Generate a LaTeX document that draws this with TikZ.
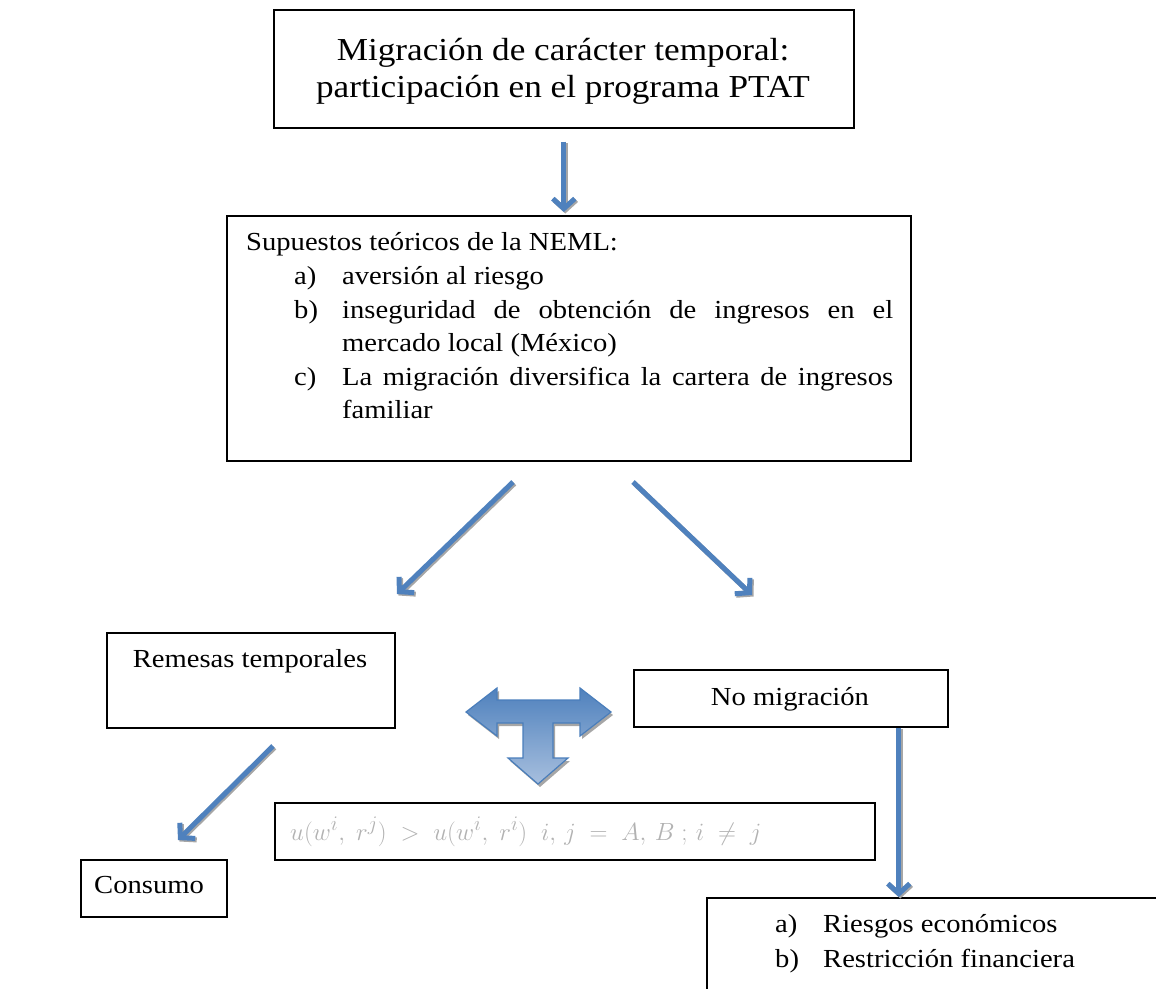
\documentclass[tikz,border=0pt]{standalone}
\usepackage{fontspec}
\setmainfont{Liberation Serif}[FakeStretch=1.1]
\usepackage{tikz}
\usetikzlibrary{arrows.meta}
\definecolor{arrblue}{HTML}{4F81BD}
\definecolor{arrgray}{HTML}{A6A6A6}
\definecolor{tdark}{HTML}{4F81BD}
\definecolor{tlight}{HTML}{A7BFDE}
\definecolor{tline}{HTML}{4A7EBB}
\tikzset{every picture/.style={x=1pt, y=-1pt},
  box/.style={draw, line width=1.6pt, anchor=north west, inner sep=0pt},
  txt/.style={font=\fontsize{26}{33}\selectfont, inner sep=0pt},
  ttl/.style={font=\fontsize{32}{37}\selectfont, inner sep=0pt},
  barrow/.style={draw=arrblue, line width=5pt, -{Straight Barb[length=10pt,width=22pt]}},
  sarrow/.style={draw=arrgray, line width=5pt, -{Straight Barb[length=10pt,width=22pt]},
    transform canvas={shift={(1.5pt,-1.5pt)}}}}
\newcommand{\blarrow}[2]{%
  \draw[sarrow] #1 -- #2;
  \draw[barrow] #1 -- #2;}

\begin{document}
\begin{tikzpicture}
    \clip (0,0) rectangle (1156,988);
    % boxes
    \node[box, minimum width=580pt, minimum height=118pt] (ptat) at (273,9) {};
    \node[ttl, anchor=base] (t1) at (563,60) {Migración de carácter temporal:};
    \node[ttl, anchor=base] (t2) at (563,97) {participación en el programa PTAT};

    \node[box, minimum width=684pt, minimum height=245pt] (neml) at (226,215) {};
    \node[txt, anchor=base west] (sup) at (246,250) {Supuestos teóricos de la NEML:};
    \node[txt, anchor=base west] (la) at (294,284) {a)};
    \node[txt, anchor=base west] (ta) at (342,284) {aversión al riesgo};
    \node[txt, anchor=base west] (lb) at (294,318) {b)};
    \node[txt, anchor=base west] (tb) at (342,318) {\makebox[551pt][s]{inseguridad de obtención de ingresos en el}};
    \node[txt, anchor=base west] (tb2) at (342,351) {mercado local (México)};
    \node[txt, anchor=base west] (lc) at (294,385) {c)};
    \node[txt, anchor=base west] (tc) at (342,385) {\makebox[551pt][s]{La migración diversifica la cartera de ingresos}};
    \node[txt, anchor=base west] (tc2) at (342,418) {familiar};

    \node[box, minimum width=288pt, minimum height=95pt] (rem) at (106,632) {};
    \node[txt, anchor=base] (trem) at (250,667) {Remesas temporales};

    \node[box, minimum width=314pt, minimum height=57pt] (nomig) at (633,669) {};
    \node[txt, anchor=base] (tnomig) at (790,705) {No migración};

    \node[box, minimum width=146pt, minimum height=57pt] (cons) at (80,859) {};
    \node[txt, anchor=base west] (tcons) at (94,893) {Consumo};

    \node[box, line width=2pt, minimum width=600pt, minimum height=57pt] (ineqbox) at (274,802) {};
    \node[anchor=base west, inner sep=0pt, text=gray!60, font=\fontsize{24.88}{30}\selectfont] (ineq) at (290,840)
      {$u\bigl(w^{i},\; r^{j}\bigr) \;>\; u\bigl(w^{i},\; r^{i}\bigr)\;\; i,\, j \;=\; A,\, B\;;\, i \;\neq\; j$};

    \node[box, minimum width=500pt, minimum height=140pt] (risk) at (706,897) {};
    \node[txt, anchor=base west] (lra) at (775,932) {a)};
    \node[txt, anchor=base west] (tra) at (823,932) {Riesgos económicos};
    \node[txt, anchor=base west] (lrb) at (775,967) {b)};
    \node[txt, anchor=base west] (trb) at (823,967) {Restricción financiera};

    % T shaped arrow
    \fill[arrgray, shift={(2,3)}] (466,712) -- (497,688) -- (497,700) -- (580,700) -- (580,688)
      -- (611,712) -- (580,736) -- (580,723) -- (553,723) -- (553,758) -- (568,758) -- (538,784)
      -- (508,758) -- (523,758) -- (523,723) -- (497,723) -- (497,736) -- cycle;
    \draw[tline, line width=1.2pt, top color=tdark, bottom color=tlight] (466,712) -- (497,688)
      -- (497,700) -- (580,700) -- (580,688) -- (611,712) -- (580,736) -- (580,723) -- (553,723)
      -- (553,758) -- (568,758) -- (538,784) -- (508,758) -- (523,758) -- (523,723) -- (497,723)
      -- (497,736) -- cycle;

    % arrows
    \coordinate (dl0) at (513,482);
    \coordinate (dl1) at (397,594);
    \coordinate (dr0) at (633,482);
    \coordinate (dr1) at (752,595);
    \coordinate (dc0) at (273,746);
    \coordinate (dc1) at (178,840);
    \blarrow{([yshift=-13pt]ptat.south)}{([yshift=3pt]ptat.south |- neml.north)}
    \blarrow{(dl0)}{(dl1)}
    \blarrow{(dr0)}{(dr1)}
    \blarrow{(dc0)}{(dc1)}
    \blarrow{([xshift=108pt]nomig.south)}{([xshift=108pt]nomig.south |- risk.north)}
\end{tikzpicture}
\end{document}
